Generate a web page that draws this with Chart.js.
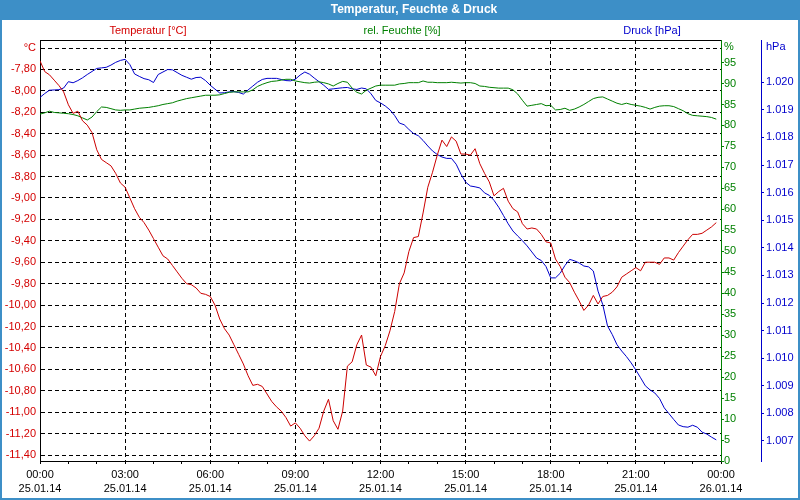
<!DOCTYPE html>
<html><head><meta charset="utf-8">
<script src="https://cdn.jsdelivr.net/npm/chart.js@4.4.1/dist/chart.umd.min.js"></script>
<style>html,body{margin:0;padding:0;background:#fff;overflow:hidden}canvas{display:block}</style>
</head><body>
<canvas id="c" width="800" height="500"></canvas>
<script>
const TITLE = 'Temperatur, Feuchte & Druck';
const SERIES_NAMES = ['Temperatur [°C]', 'rel. Feuchte [%]', 'Druck [hPa]'];
const STEP_MINUTES = 10;

const temperature = [
-7.72,-7.82,-7.85,-7.90,-7.95,-8.01,-8.13,-8.21,-8.19,-8.28,
-8.32,-8.39,-8.55,-8.64,-8.67,-8.70,-8.77,-8.86,-8.90,-9.00,
-9.10,-9.18,-9.23,-9.30,-9.38,-9.46,-9.54,-9.57,-9.63,-9.69,
-9.75,-9.80,-9.81,-9.84,-9.89,-9.90,-9.92,-10.00,-10.13,-10.22,
-10.28,-10.37,-10.46,-10.55,-10.66,-10.75,-10.74,-10.76,-10.83,-10.90,
-10.95,-10.99,-11.05,-11.13,-11.10,-11.15,-11.22,-11.27,-11.22,-11.15,
-10.99,-10.88,-11.08,-11.16,-10.99,-10.57,-10.53,-10.37,-10.28,-10.56,
-10.58,-10.66,-10.48,-10.38,-10.24,-10.06,-9.80,-9.70,-9.50,-9.37,
-9.36,-9.14,-8.90,-8.76,-8.60,-8.46,-8.52,-8.43,-8.47,-8.59,
-8.59,-8.60,-8.54,-8.68,-8.77,-8.85,-8.98,-8.94,-8.91,-9.03,
-9.10,-9.13,-9.24,-9.29,-9.28,-9.29,-9.34,-9.41,-9.42,-9.57,
-9.64,-9.74,-9.79,-9.88,-9.96,-10.05,-10.00,-9.91,-9.99,-9.92,
-9.91,-9.88,-9.83,-9.74,-9.71,-9.68,-9.65,-9.68,-9.60,-9.60,
-9.60,-9.62,-9.56,-9.56,-9.58,-9.51,-9.45,-9.39,-9.34,-9.34,
-9.33,-9.30,-9.27,-9.23
];

const humidity = [
82.7,83.0,83.4,83.1,83.0,82.9,82.8,82.6,82.3,81.8,
81.3,82.0,83.3,84.4,84.3,84.0,83.7,83.6,83.7,83.7,
83.9,84.1,84.2,84.3,84.5,84.7,85.0,85.2,85.4,85.8,
86.1,86.4,86.6,86.8,87.0,87.2,87.2,87.2,87.3,87.6,
87.9,88.0,88.0,88.0,88.0,88.5,89.3,89.8,90.2,90.5,
90.6,90.8,91.0,91.0,90.6,90.4,90.2,90.1,90.3,90.4,
90.2,89.9,89.4,90.0,90.5,90.3,88.9,87.9,87.5,88.4,
88.9,89.4,89.6,89.6,89.6,89.6,89.9,90.0,90.2,90.2,
90.2,90.6,90.3,90.3,90.2,90.2,90.2,90.3,90.2,90.1,
90.2,90.2,90.0,89.4,89.3,89.1,89.0,88.9,88.9,88.9,
88.5,87.5,86.0,84.6,84.8,85.0,85.2,84.7,84.8,83.7,
83.8,84.1,83.6,83.9,84.4,85.0,85.7,86.4,86.7,86.8,
86.3,85.8,85.3,85.0,85.3,85.0,84.8,84.6,84.3,83.9,
84.3,84.6,84.7,84.7,84.5,84.0,83.5,82.8,82.4,82.3,
82.2,82.1,81.9,81.5
];

const pressure = [
1019.45,1019.59,1019.71,1019.72,1019.73,1019.79,1020.02,1019.98,1020.06,1020.16,
1020.28,1020.39,1020.50,1020.52,1020.54,1020.62,1020.72,1020.79,1020.83,1020.64,
1020.30,1020.21,1020.13,1020.09,1019.99,1020.28,1020.37,1020.46,1020.45,1020.35,
1020.25,1020.18,1020.11,1020.17,1020.18,1020.06,1019.89,1019.75,1019.61,1019.62,
1019.65,1019.66,1019.63,1019.57,1019.72,1019.86,1020.00,1020.10,1020.14,1020.14,
1020.14,1020.10,1020.06,1020.05,1020.11,1020.26,1020.37,1020.29,1020.15,1020.02,
1019.89,1019.74,1019.76,1019.78,1019.80,1019.81,1019.76,1019.74,1019.79,1019.76,
1019.58,1019.34,1019.25,1019.14,1019.00,1018.79,1018.52,1018.46,1018.29,1018.14,
1018.06,1017.89,1017.69,1017.51,1017.38,1017.29,1017.24,1017.24,1017.03,1016.67,
1016.38,1016.24,1016.21,1016.17,1015.99,1015.90,1015.72,1015.47,1015.17,1014.87,
1014.61,1014.43,1014.26,1014.07,1013.85,1013.63,1013.54,1013.32,1012.91,1012.91,
1013.08,1013.36,1013.58,1013.53,1013.45,1013.34,1013.31,1013.16,1012.43,1011.94,
1011.17,1010.86,1010.49,1010.26,1010.06,1009.83,1009.57,1009.29,1009.00,1008.85,
1008.74,1008.54,1008.20,1007.99,1007.78,1007.58,1007.52,1007.50,1007.57,1007.50,
1007.32,1007.25,1007.14,1007.04
];

// sample times in hours since 25.01.14 00:00
const times = temperature.map((_, i) => i * STEP_MINUTES / 60);

const xTickHours = [0, 3, 6, 9, 12, 15, 18, 21, 24];
const xTickTimes = ['00:00','03:00','06:00','09:00','12:00','15:00','18:00','21:00','00:00'];
const xTickDates = ['25.01.14','25.01.14','25.01.14','25.01.14','25.01.14','25.01.14','25.01.14','25.01.14','26.01.14'];

const tempTicks = [-11.4,-11.2,-11.0,-10.8,-10.6,-10.4,-10.2,-10.0,-9.8,-9.6,-9.4,-9.2,-9.0,-8.8,-8.6,-8.4,-8.2,-8.0,-7.8,-7.6];
const humTicks = [0,5,10,15,20,25,30,35,40,45,50,55,60,65,70,75,80,85,90,95];
const presTicks = [1007,1008,1009,1010,1011,1012,1013,1014,1015,1016,1017,1018,1019,1020];
const UNIT_T = '°C', UNIT_H = '%', UNIT_P = 'hPa';
const UNIT_H_AT = 98.7, UNIT_P_AT = 1021.27;

const RED = '#cc0000', RED_TXT = '#d40000', GREEN = '#008000', BLUE = '#0000cc', BAR = '#3d8fc7';
const FONT = '"Liberation Sans", Arial, sans-serif';

Chart.defaults.font.family = FONT;
Chart.defaults.font.size = 11;

const framePlugin = {
  id: 'frame',
  beforeDraw(chart) {
    const c = chart.ctx, W = chart.width, H = chart.height;
    c.save();
    c.fillStyle = '#fff'; c.fillRect(0, 0, W, H);
    c.fillStyle = BAR;
    c.fillRect(0, 0, W, 20);
    c.fillRect(0, 0, 2, H); c.fillRect(W - 2, 0, 2, H); c.fillRect(0, H - 2, W, 2);
    c.textAlign = 'center'; c.textBaseline = 'middle';
    c.fillStyle = '#fff'; c.font = 'bold 12px ' + FONT;
    c.fillText(TITLE, 414, 10);
    c.font = '11px ' + FONT;
    c.fillStyle = RED_TXT; c.fillText(SERIES_NAMES[0], 148, 31);
    c.fillStyle = GREEN; c.fillText(SERIES_NAMES[1], 402, 31);
    c.fillStyle = BLUE; c.fillText(SERIES_NAMES[2], 652, 31);
    c.restore();
  },
  afterDraw(chart) {
    const c = chart.ctx, a = chart.chartArea;
    c.save();
    c.strokeStyle = '#000'; c.lineWidth = 1;
    c.beginPath(); c.moveTo(a.left, Math.round(a.top) + 0.5); c.lineTo(a.right, Math.round(a.top) + 0.5); c.stroke();
    c.restore();
  }
};

const ds = (label, data, color, axis) => ({
  label, data, borderColor: color, borderWidth: 1, pointRadius: 0, tension: 0, fill: false, yAxisID: axis
});

new Chart(document.getElementById('c'), {
  type: 'line',
  data: {
    labels: times,
    datasets: [
      ds(SERIES_NAMES[0], temperature, RED, 'yT'),
      ds(SERIES_NAMES[1], humidity, GREEN, 'yH'),
      ds(SERIES_NAMES[2], pressure, BLUE, 'yP')
    ]
  },
  options: {
    responsive: false, animation: false, devicePixelRatio: 1,
    layout: { padding: { top: 40, left: 0, right: 0, bottom: 0 } },
    plugins: { legend: { display: false }, tooltip: { enabled: false }, title: { display: false } },
    scales: {
      x: {
        type: 'linear', min: 0, max: 24,
        afterFit(s) { s.height = 39; },
        ticks: {
          stepSize: 1, autoSkip: false, maxRotation: 0, padding: 3, color: '#000',
          font: { size: 11, lineHeight: 1.36 },
          callback(v) { const i = xTickHours.indexOf(v); return i >= 0 ? [xTickTimes[i], xTickDates[i]] : ''; }
        },
        grid: {
          color: (ctx) => (ctx.tick && xTickHours.includes(ctx.tick.value)) ? '#000' : 'rgba(0,0,0,0)',
          tickColor: '#000', tickLength: 3, lineWidth: 1
        },
        border: { color: '#000', width: 1, dash: [4, 3] }
      },
      yT: {
        position: 'left', min: -11.456, max: -7.525,
        afterFit(s) { s.width = 40; },
        afterBuildTicks(s) { s.ticks = tempTicks.map(v => ({ value: v })); },
        ticks: {
          color: RED_TXT, padding: 4,
          callback(v) { return Math.abs(v - tempTicks[tempTicks.length - 1]) < 1e-6 ? UNIT_T : v.toFixed(2).replace('.', ','); }
        },
        grid: { color: '#000', drawTicks: false, lineWidth: 1 },
        border: { color: '#000', width: 1, dash: [4, 3] }
      },
      yH: {
        position: 'right', min: 0, max: 100.37,
        afterFit(s) { s.width = 40; },
        afterBuildTicks(s) { s.ticks = humTicks.concat([UNIT_H_AT]).map(v => ({ value: v })); },
        ticks: {
          color: GREEN, padding: 0,
          callback(v) { return v === UNIT_H_AT ? UNIT_H : String(v); }
        },
        grid: {
          drawOnChartArea: false, drawTicks: true, tickLength: 3, color: GREEN,
          tickColor: (ctx) => (ctx.tick && ctx.tick.value === UNIT_H_AT) ? 'rgba(0,0,0,0)' : GREEN
        },
        border: { color: GREEN, width: 1 }
      },
      yP: {
        position: 'right', min: 1006.275, max: 1021.53,
        afterFit(s) { s.width = 39; },
        afterBuildTicks(s) { s.ticks = presTicks.concat([UNIT_P_AT]).map(v => ({ value: v })); },
        ticks: {
          color: BLUE, padding: 2,
          callback(v) { if (v === UNIT_P_AT) return UNIT_P; const n = Math.round(v); return Math.floor(n / 1000) + '.' + String(n % 1000).padStart(3, '0'); }
        },
        grid: {
          drawOnChartArea: false, drawTicks: true, tickLength: 3, color: BLUE,
          tickColor: (ctx) => (ctx.tick && ctx.tick.value === UNIT_P_AT) ? 'rgba(0,0,0,0)' : BLUE
        },
        border: { color: BLUE, width: 1 }
      }
    }
  },
  plugins: [framePlugin]
});
</script>
</body></html>
